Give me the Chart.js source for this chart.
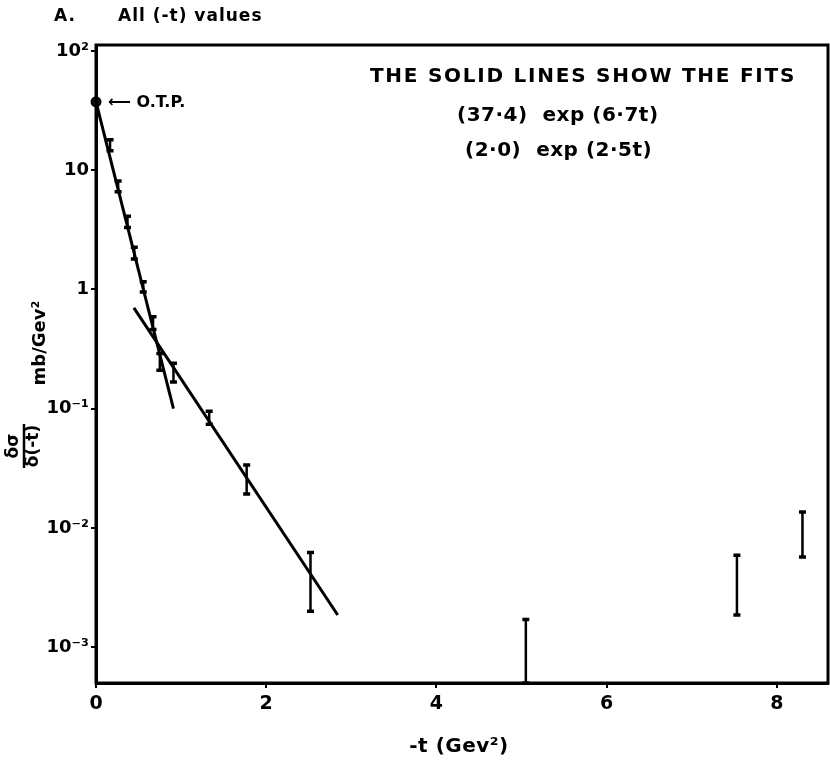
<!DOCTYPE html>
<html>
<head>
<meta charset="utf-8">
<script src="https://cdn.jsdelivr.net/npm/chart.js@4.4.1/dist/chart.umd.min.js"></script>
<style>
  html, body { margin: 0; padding: 0; background: #fff; }
  #wrap { width: 830px; height: 764px; position: relative; }
</style>
</head>
<body>
<div id="wrap"><canvas id="c" width="830" height="764"></canvas></div>
<script>
// ---- data ----
const tValues   = [0.165, 0.26, 0.37, 0.45, 0.555, 0.67, 0.75, 0.91, 1.33, 1.77, 2.52, 5.05, 7.53, 8.3];
const sigma     = [16.2, 7.3, 3.7, 2.0, 1.05, 0.52, 0.25, 0.20, 0.085, 0.0257, 0.0036, 0.0008, 0.0035, 0.009];
const errLow    = [14.5, 6.6, 3.3, 1.8, 0.95, 0.46, 0.21, 0.167, 0.074, 0.0192, 0.0020, 0.0005, 0.00186, 0.0057];
const errHigh   = [18.0, 8.1, 4.1, 2.25, 1.16, 0.59, 0.29, 0.24, 0.095, 0.0336, 0.0062, 0.0017, 0.0059, 0.0136];
const otpT      = [0];
const otpY      = [37.4];
const fit1T     = [0, 0.91];
const fit1Y     = [37.4, 0.10];
const fit2T     = [0.445, 2.84];
const fit2Y     = [0.70, 0.00186];
const xTicks    = [0, 2, 4, 6, 8];
const yTicks    = [1e-3, 1e-2, 1e-1, 1, 10, 100];
const yTickText = ['10\u207B\u00B3', '10\u207B\u00B2', '10\u207B\u00B9', '1', '10', '10\u00B2'];
const titleText = 'All (-t) values';
const panelText = 'A.';
const noteLines = ['THE SOLID LINES SHOW THE FITS', '(37\u00B74)  exp (6\u00B77t)', '(2\u00B70)  exp (2\u00B75t)'];
const otpLabel  = '\u27F5 O.T.P.';
const xTitle    = '-t (Gev\u00B2)';

const FONT = '"DejaVu Sans", "Liberation Sans", sans-serif';
const pts = (xs, ys) => xs.map((x, i) => ({ x: x, y: ys[i] }));
const barData = tValues.map((t, i) => ({ x: t, y: sigma[i], yMin: errLow[i], yMax: errHigh[i] }));

const decorations = {
  id: 'decorations',
  afterDatasetsDraw(chart) {
    const { ctx, chartArea: a, scales: { x, y } } = chart;
    ctx.save();
    // frame
    ctx.strokeStyle = '#000';
    ctx.lineWidth = 3;
    ctx.strokeRect(a.left, a.top, a.right - a.left, a.bottom - a.top);
    // error bars
    ctx.beginPath();
    ctx.rect(a.left, a.top - 2, a.right - a.left, a.bottom - a.top + 4);
    ctx.clip();
    chart.data.datasets[3].data.forEach(p => {
      const px = x.getPixelForValue(p.x);
      const p1 = y.getPixelForValue(p.yMax);
      const p2 = y.getPixelForValue(Math.max(p.yMin, y.min));
      ctx.lineWidth = 2.5;
      ctx.beginPath(); ctx.moveTo(px, p1); ctx.lineTo(px, p2); ctx.stroke();
      ctx.lineWidth = 3.5;
      ctx.beginPath();
      ctx.moveTo(px - 3.5, p1); ctx.lineTo(px + 3.5, p1);
      ctx.moveTo(px - 3.5, p2); ctx.lineTo(px + 3.5, p2);
      ctx.stroke();
    });
    ctx.restore();

    ctx.save();
    ctx.fillStyle = '#000';
    ctx.textBaseline = 'middle';
    // O.T.P. label next to its point
    const ox = x.getPixelForValue(otpT[0]);
    const oy = y.getPixelForValue(otpY[0]);
    ctx.font = 'bold 16px ' + FONT;
    ctx.textAlign = 'left';
    ctx.fillText(otpLabel, ox + 12, oy + 1);
    // fit note
    ctx.font = 'bold 20px ' + FONT;
    ctx.letterSpacing = '1.75px';
    ctx.textAlign = 'center';
    ctx.fillText(noteLines[0], 583, 77);
    ctx.letterSpacing = '0.5px';
    ctx.textAlign = 'left';
    ctx.fillText(noteLines[1], 457, 116);
    ctx.fillText(noteLines[2], 465, 151);
    // title
    ctx.font = 'bold 17px ' + FONT;
    ctx.letterSpacing = '1px';
    ctx.fillText(panelText, 54, 17);
    ctx.fillText(titleText, 118, 17);
    // x title
    ctx.font = 'bold 20px ' + FONT;
    ctx.letterSpacing = '0.5px';
    ctx.textAlign = 'center';
    ctx.fillText(xTitle, 459, 747);
    ctx.letterSpacing = '0px';
    // y title (rotated)
    ctx.save();
    ctx.translate(24, 446);
    ctx.rotate(-Math.PI / 2);
    ctx.font = 'bold 17px ' + FONT;
    ctx.textAlign = 'center';
    ctx.fillText('\u03B4\u03C3', 0, -10);
    ctx.fillText('\u03B4(-t)', 0, 10);
    ctx.lineWidth = 2.5;
    ctx.beginPath(); ctx.moveTo(-22, 0); ctx.lineTo(22, 0); ctx.stroke();
    ctx.restore();
    ctx.save();
    ctx.translate(40, 343);
    ctx.rotate(-Math.PI / 2);
    ctx.font = 'bold 18px ' + FONT;
    ctx.textAlign = 'center';
    ctx.fillText('mb/Gev\u00B2', 0, 0);
    ctx.restore();
    ctx.restore();
  }
};

new Chart(document.getElementById('c'), {
  type: 'scatter',
  data: {
    datasets: [
      { data: pts(fit1T, fit1Y), showLine: true, borderColor: '#000', borderWidth: 3, pointRadius: 0, order: 2 },
      { data: pts(fit2T, fit2Y), showLine: true, borderColor: '#000', borderWidth: 3, pointRadius: 0, order: 2 },
      { data: pts(otpT, otpY), showLine: false, pointRadius: 4.5, pointBorderWidth: 2, pointBorderColor: '#000', pointBackgroundColor: '#111', order: 1, clip: false },
      { data: barData, showLine: false, pointRadius: 0, order: 3 }
    ]
  },
  options: {
    responsive: false,
    animation: false,
    events: [],
    layout: { autoPadding: false, padding: { top: 45, right: 2, left: 0, bottom: 0 } },
    plugins: { legend: { display: false }, tooltip: { enabled: false } },
    scales: {
      x: {
        type: 'linear', min: 0, max: 8.6,
        afterBuildTicks: s => { s.ticks = xTicks.map(v => ({ value: v })); },
        afterFit: s => { s.height = 81; s.paddingRight = 0; s.paddingLeft = 0; },
        border: { display: true, color: '#000', width: 3 },
        grid: { display: true, drawOnChartArea: false, drawTicks: true, tickLength: 5, color: '#000', lineWidth: 2 },
        ticks: { color: '#000', font: { family: FONT, weight: 'bold', size: 19 }, padding: 5, maxRotation: 0,
                 callback: v => String(v) }
      },
      y: {
        type: 'logarithmic', min: 0.0005, max: 112,
        afterBuildTicks: s => { s.ticks = yTicks.map(v => ({ value: v })); },
        afterFit: s => { s.width = 96; s.paddingTop = 0; s.paddingBottom = 0; },
        border: { display: true, color: '#000', width: 3 },
        grid: { display: true, drawOnChartArea: false, drawTicks: true, tickLength: 5, color: '#000', lineWidth: 2 },
        ticks: { color: '#000', font: { family: FONT, weight: 'bold', size: 18 }, padding: 2,
                 callback: (v) => { const i = yTicks.findIndex(t => Math.abs(Math.log10(t) - Math.log10(v)) < 1e-6); return i >= 0 ? yTickText[i] : ''; } }
      }
    }
  },
  plugins: [decorations]
});
</script>
</body>
</html>
